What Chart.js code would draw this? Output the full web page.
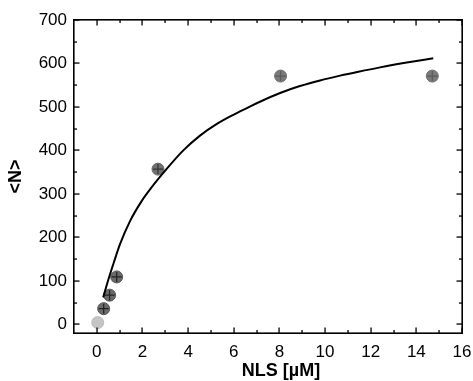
<!DOCTYPE html>
<html>
<head>
    <title>NLS binding curve</title>
    <style>
        body, html {
            margin: 0;
            background-color: #ffffff;
        }
        #wrap {
            width: 473px;
            height: 381px;
        }
    </style>
</head>
<body>
    <div id="wrap"><canvas id="myChart"></canvas></div>
    <script src="https://cdn.jsdelivr.net/npm/chart.js"></script>
    <script>
        // measured points
        const nlsConc = [0.04, 0.3, 0.56, 0.87, 2.68, 8.05, 14.7];
        const meanN = [4, 36, 67, 109, 357, 571, 571];

        // fitted curve
        const fitConc = [0.28, 0.5, 0.75, 1.02, 1.46, 1.97, 2.34, 3.07, 3.79, 4.52, 5.26, 5.98, 6.64, 7.15, 8.03, 8.9, 9.78, 10.66, 11.46, 12.41, 13.58, 14.74];
        const fitN = [62, 102, 143, 185, 238, 284, 311, 358, 400, 434, 461, 482, 499, 512, 532, 548, 561, 572, 581, 591, 602, 612];

        const xTicks = [0, 2, 4, 6, 8, 10, 12, 14, 16];
        const yTicks = [0, 100, 200, 300, 400, 500, 600, 700];
        const xTitle = 'NLS [µM]';
        const yTitle = '<N>';

        const font = "'Liberation Sans', Arial, sans-serif";

        // box with inward ticks on all four sides, plus the x title
        const frame = {
            id: 'frame',
            afterDraw(chart) {
                const {ctx, chartArea: a} = chart;
                const x = chart.scales.x, y = chart.scales.y;
                const L = Math.round(a.left), R = Math.round(a.right);
                const T = Math.round(a.top), B = Math.round(a.bottom);
                ctx.save();
                ctx.fillStyle = '#000';
                ctx.fillRect(L - 1, T - 1, R - L + 2, 1.6);
                ctx.fillRect(L - 1, B - 0.6, R - L + 2, 1.6);
                ctx.fillRect(L - 1, T - 1, 1.6, B - T + 2);
                ctx.fillRect(R - 0.6, T - 1, 1.6, B - T + 2);
                for (let v = 0; v <= 16; v++) {
                    const len = v % 2 === 0 ? 5.5 : 3;
                    const px = Math.round(x.getPixelForValue(v));
                    ctx.fillRect(px - 0.6, B - len, 1.3, len);
                    ctx.fillRect(px - 0.6, T, 1.3, len);
                }
                for (let v = 0; v <= 700; v += 50) {
                    const len = v % 100 === 0 ? 5.5 : 3;
                    const py = Math.round(y.getPixelForValue(v));
                    ctx.fillRect(L, py - 0.6, len, 1.3);
                    ctx.fillRect(R - len, py - 0.6, len, 1.3);
                }

                ctx.font = 'bold 18px ' + font;
                ctx.textAlign = 'center';
                ctx.textBaseline = 'middle';
                ctx.fillText(xTitle, (a.left + a.right) / 2 + 13, 371);
                ctx.restore();
            }
        };

        const ctx = document.getElementById('myChart').getContext('2d');
        const myChart = new Chart(ctx, {
            type: 'scatter',
            data: {
                datasets: [{
                    label: 'Fit',
                    type: 'line',
                    data: fitConc.map((c, i) => ({x: c, y: fitN[i]})),
                    borderColor: '#000',
                    borderWidth: 2,
                    pointRadius: 0,
                    cubicInterpolationMode: 'monotone',
                    fill: false
                }, {
                    label: 'Error',
                    data: nlsConc.map((c, i) => ({x: c, y: meanN[i]})),
                    pointStyle: 'cross',
                    pointRadius: [0, 5, 5, 5, 5, 5, 5],
                    borderColor: ['#000', '#222', '#222', '#222', '#333', 'rgba(60,60,60,0.5)', 'rgba(60,60,60,0.5)'],
                    borderWidth: 1.2,
                    backgroundColor: 'transparent'
                }, {
                    label: yTitle,
                    data: nlsConc.map((c, i) => ({x: c, y: meanN[i]})),
                    pointRadius: 6,
                    pointBackgroundColor: ['#c4c4c4', '#6a6a6a', '#6a6a6a', '#6a6a6a', '#707070', '#7a7a7a', '#7a7a7a'],
                    pointBorderColor: ['#bbbbbb', '#555', '#555', '#555', '#666', '#6e6e6e', '#6e6e6e'],
                    pointBorderWidth: 1
                }]
            },
            options: {
                animation: false,
                responsive: true,
                maintainAspectRatio: false,
                layout: { padding: { top: 20, right: 11, left: 0, bottom: 0 } },
                plugins: {
                    legend: { display: false },
                    tooltip: { enabled: false }
                },
                scales: {
                    x: {
                        type: 'linear',
                        min: -1,
                        max: 16,
                        grid: { display: false, drawTicks: false },
                        border: { display: false },
                        afterBuildTicks: s => { s.ticks = xTicks.map(v => ({value: v})); },
                        afterFit: s => { s.height = 48; s.paddingLeft = 0; s.paddingRight = 0; },
                        ticks: { padding: 9, color: '#000', font: { family: font, size: 17 } },
                        title: { display: false, text: xTitle }
                    },
                    y: {
                        type: 'linear',
                        min: -20,
                        max: 700,
                        grid: { display: false, drawTicks: false },
                        border: { display: false },
                        afterBuildTicks: s => { s.ticks = yTicks.map(v => ({value: v})); },
                        afterFit: s => { s.width = 74; s.paddingTop = 0; s.paddingBottom = 0; },
                        ticks: { padding: 7, color: '#000', font: { family: font, size: 17 } },
                        title: {
                            display: true,
                            text: yTitle,
                            color: '#000',
                            padding: { top: 5, bottom: 0 },
                            font: { family: font, size: 18, weight: 'bold' }
                        }
                    }
                }
            },
            plugins: [frame]
        });
    </script>
</body>
</html>
